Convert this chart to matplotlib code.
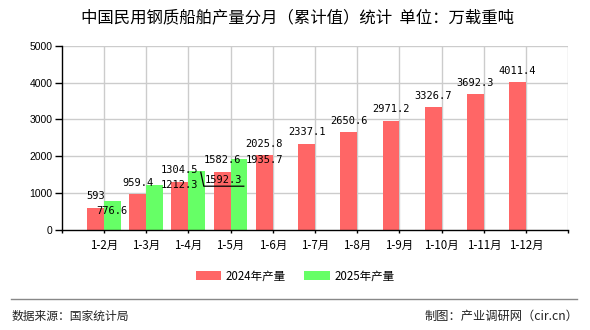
import matplotlib
matplotlib.use("Agg")
import matplotlib.pyplot as plt
import matplotlib.transforms as mtransforms
import numpy as np

categories = ["1-2月", "1-3月", "1-4月", "1-5月", "1-6月", "1-7月", "1-8月",
              "1-9月", "1-10月", "1-11月", "1-12月"]
values_2024 = [593, 959.4, 1304.5, 1582.6, 2025.8, 2337.1, 2650.6, 2971.2,
               3326.7, 3692.3, 4011.4]
values_2025 = [776.6, 1212.3, 1592.3, 1935.7]
labels_2024 = ["593", "959.4", "1304.5", "1582.6", "2025.8", "2337.1", "2650.6",
               "2971.2", "3326.7", "3692.3", "4011.4"]
labels_2025 = ["776.6", "1212.3", "1592.3", "1935.7"]
yticks = [0, 1000, 2000, 3000, 4000, 5000]

# label offsets for the 2025 series (pixels, relative to bar top)
off_2025 = [(0, -12.8), (25, -3), (27, -12), (25, -4)]

CJK = ["Noto Sans CJK SC", "DejaVu Sans"]
RED = "#ff6666"
GREEN = "#66ff66"

fig = plt.figure(figsize=(5.9, 3.3), dpi=100)
ax = fig.add_axes([61.7 / 590, 1 - 229.7 / 330, (568.3 - 61.7) / 590, (229.7 - 46) / 330])

x = np.arange(len(categories))
w = 0.4
ax.bar(x - w / 2, values_2024, width=w, color=RED, zorder=3, label="2024年产量")
x25 = x[:len(values_2025)]
ax.bar(x25 + w / 2, values_2025, width=w, color=GREEN, zorder=3, label="2025年产量")

ax.set_xlim(-1, 11)
ax.set_ylim(0, 5000)

# grid
for gx in range(0, 12):
    ax.axvline(gx, color="#cccccc", lw=1, zorder=1)
for gy in yticks[1:]:
    ax.axhline(gy, color="#cccccc", lw=1, zorder=1)

for s in ["top", "right"]:
    ax.spines[s].set_visible(False)
for s in ["left", "bottom"]:
    ax.spines[s].set_color("black")
    ax.spines[s].set_linewidth(1)
    ax.spines[s].set_zorder(4)

ax.set_xticks(list(x) + [-1, 11])
ax.set_xticklabels(categories + ["", ""], fontfamily=CJK, fontsize=8.3)
ax.tick_params(axis="x", length=2.5, width=1, pad=4.5, colors="black")
ax.set_yticks(yticks)
ax.set_yticklabels([str(t) for t in yticks], fontfamily="Liberation Sans", fontsize=7.5)
ax.tick_params(axis="y", length=5, width=1, pad=1.5)

def px_trans(xd, yd):
    return fig.dpi_scale_trans + mtransforms.ScaledTranslation(xd, yd, ax.transData)

mono = "DejaVu Sans Mono"
for xi, v, lab in zip(x, values_2024, labels_2024):
    ax.text(0, 8.5 / 100, lab, transform=px_trans(xi - w / 2, v), ha="center",
            va="baseline", fontfamily=mono, fontsize=7.5, zorder=6)

for xi, v, lab, (dx, dy) in zip(x25, values_2025, labels_2025, off_2025):
    ax.text(dx / 100, dy / 100, lab, transform=px_trans(xi + w / 2, v), ha="center",
            va="baseline", fontfamily=mono, fontsize=7.5, zorder=6)

# leader line for the moved 1592.3 label
lx = [4, 7, 47]
ly = [-1, -15, -15]
ax.plot(np.array(lx) / 100, np.array(ly) / 100, color="black", lw=0.9,
        transform=px_trans(x25[2] + w / 2, values_2025[2]), zorder=6, clip_on=False)

fig.text(0.505, 1 - 18 / 330, "中国民用钢质船舶产量分月（累计值）统计  单位：万载重吨",
         ha="center", va="center", fontfamily=CJK, fontsize=11.8)

leg = fig.legend(loc="center", bbox_to_anchor=(0.5, 1 - 276 / 330), ncol=2, frameon=False,
                 prop={"family": CJK, "size": 8.3}, handlelength=2.2, handleheight=0.8,
                 columnspacing=1.6, handletextpad=0.4)

fig.add_artist(plt.Line2D([11 / 590, 577 / 590], [1 - 299 / 330, 1 - 299 / 330],
                          color="#888888", lw=1))
fig.text(12 / 590, 1 - 316 / 330, "数据来源：国家统计局", ha="left", va="center",
         fontfamily=CJK, fontsize=8.5, color="#222222")
fig.text(578 / 590, 1 - 316 / 330, "制图：产业调研网（cir.cn）", ha="right", va="center",
         fontfamily=CJK, fontsize=8.8, color="#222222")

fig.savefig("out.png", dpi=100)
